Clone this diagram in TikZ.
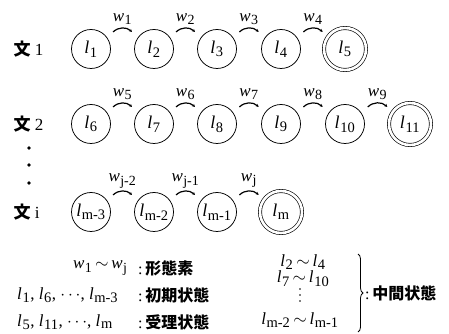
\documentclass[tikz,border=0pt]{standalone}
\usepackage{fontspec}
\setmainfont{Liberation Serif}
\newfontfamily\jp{Noto Sans CJK JP}
\usetikzlibrary{calc,arrows.meta,decorations.pathreplacing}
\newcommand\Lv[1]{\textit{l}\kern0.6pt\textsubscript{\normalfont\fontsize{14.5}{14.5}\selectfont #1}}
\newcommand\Wv[1]{\textit{w}\kern0.3pt\textsubscript{\normalfont\fontsize{14}{14}\selectfont #1}}
\tikzset{
  st/.style={circle,draw,line width=0.75pt,minimum size=39pt,inner sep=0pt,font=\fontsize{18}{18}\selectfont},
  acc/.style={circle,draw,line width=0.65pt,double,double distance=2.6pt,minimum size=42pt,inner sep=0pt,font=\fontsize{18}{18}\selectfont},
  bow/.style={line width=1.2pt,-{Stealth[length=3pt,width=3pt]},bend left=45},
  wl/.style={font=\fontsize{17}{17}\selectfont,inner sep=0.5pt},
  rowlab/.style={anchor=west,font=\fontsize{17}{17}\selectfont},
  leg/.style={anchor=west,font=\fontsize{17}{18}\selectfont,inner sep=0pt},
  cjk/.style={anchor=west,font=\fontsize{16}{18}\selectfont\jp\bfseries,inner sep=0pt},
}
\begin{document}
\begin{tikzpicture}[x=1pt,y=1pt]
\useasboundingbox (0,0) rectangle (449,334);
% row labels
\node[rowlab] (s1) at (10,285) {{\jp\bfseries 文}\ 1};
\node[rowlab] (s2) at (10,210) {{\jp\bfseries 文}\ 2};
\node[rowlab] (si) at (10,122) {{\jp\bfseries 文}\ i};
\fill (29,186) circle (1.8) (29,169) circle (1.8) (29,151) circle (1.8);
% row 1
\node[st] (a1) at (91,285) {\Lv{1}};
\node[st] (a2) at (154,285) {\Lv{2}};
\node[st] (a3) at (217,285) {\Lv{3}};
\node[st] (a4) at (281,285) {\Lv{4}};
\node[acc] (a5) at (345,285) {\Lv{5}};
% row 2
\node[st] (b1) at (91,210) {\Lv{6}};
\node[st] (b2) at (154,210) {\Lv{7}};
\node[st] (b3) at (217,210) {\Lv{8}};
\node[st] (b4) at (281,210) {\Lv{9}};
\node[st] (b5) at (345,210) {\Lv{10}};
\node[acc] (b6) at (410,210) {\Lv{11}};
% row i
\node[st] (c1) at (91,122) {\Lv{m-3}};
\node[st] (c2) at (154,122) {\Lv{m-2}};
\node[st] (c3) at (217,122) {\Lv{m-1}};
\node[acc] (c4) at (281,122) {\Lv{m}};
% transitions
\foreach \p/\q/\w in {a1/a2/1,a2/a3/2,a3/a4/3,a4/a5/4,b1/b2/5,b2/b3/6,b3/b4/7,b4/b5/8,b5/b6/9,c1/c2/j-2,c2/c3/j-1,c3/c4/j}{
  \draw[bow] ($(\p)!0.35!(\q)+(0,17)$) to node[wl,above=2pt] {\Wv{\w}} ($(\p)!0.65!(\q)+(0,17)$);
}
% legend
\node[leg] (g1) at (73,66) {\Wv{1}\,$\sim$\,\Wv{j}};
\node[leg] (g2) at (17,39) {\Lv{1}, \Lv{6}, $\cdots$, \Lv{m-3}};
\node[leg] (g3) at (17,12) {\Lv{5}, \Lv{11}, $\cdots$, \Lv{m}};
\node[cjk] (h1) at (138,66) {{\rmfamily\mdseries :}\,形態素};
\node[cjk] (h2) at (138,39) {{\rmfamily\mdseries :}\,初期状態};
\node[cjk] (h3) at (138,12) {{\rmfamily\mdseries :}\,受理状態};
\node[leg,anchor=center] (r1) at (303,72) {\Lv{2}\,$\sim$\,\Lv{4}};
\node[leg,anchor=center] (r2) at (303,55) {\Lv{7}\,$\sim$\,\Lv{10}};
\fill (300,45) circle (0.9) (300,39) circle (0.9) (300,33) circle (0.9);
\node[leg,anchor=center] (r4) at (300,14) {\Lv{m-2}\,$\sim$\,\Lv{m-1}};
\draw[line width=0.8pt,decorate,decoration={brace,amplitude=5pt}] (358,80) -- (358,2);
\node[cjk] (h4) at (365,41) {{\rmfamily\mdseries :}\,中間状態};
\end{tikzpicture}
\end{document}
